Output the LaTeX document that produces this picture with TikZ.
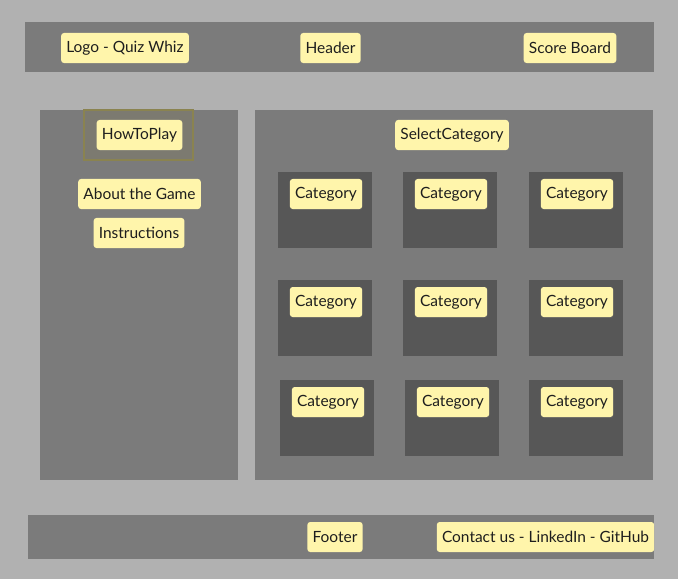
\documentclass[tikz,border=0pt]{standalone}
\usepackage{fontspec}
\setmainfont{Lato}
\usetikzlibrary{positioning,shadows}
\definecolor{page}{HTML}{B1B1B1}
\definecolor{panel}{HTML}{7B7B7B}
\definecolor{tile}{HTML}{575757}
\definecolor{note}{HTML}{FFF5AB}
\definecolor{ink}{HTML}{1E1E1E}
\definecolor{mark}{HTML}{8A8350}
\definecolor{markfill}{HTML}{7C7A70}
\tikzset{
  sticky/.style={fill=note, rounded corners=2pt, text=ink, inner xsep=0.13cm,
                 minimum height=0.75cm, font=\fontsize{11}{13}\selectfont,
                 drop shadow={opacity=0.18, shadow xshift=0.4pt, shadow yshift=-0.8pt}},
  area/.style={fill=panel},
}

\begin{document}
\begin{tikzpicture}[x=0.025cm, y=-0.025cm]
    \fill[page] (0,0) rectangle (678,579);
    % header
    \fill[area] (25,22) rectangle (654,72);
    \node[sticky] (logo) at (125,48) {Logo - Quiz Whiz};
    \node[sticky] (header) at (330.5,48) {Header};
    \node[sticky] (score) at (570,48) {Score Board};
    % left column
    \fill[area] (40,110) rectangle (238,480);
    \fill[markfill, draw=mark, line width=0.8pt] (84,110) rectangle (193,160);
    \node[sticky] (howto) at (139.5,135) {HowToPlay};
    \node[sticky] (about) at (139.5,194) {About the Game};
    \node[sticky] (instr) at (139,233) {Instructions};
    % categories
    \fill[area] (255,110) rectangle (653,480);
    \node[sticky] (select) at (452,135) {SelectCategory};
    \foreach \i/\bx/\by in {1/278/172, 2/403/172, 3/529/172,
                            4/278/280, 5/403/280, 6/529/280,
                            7/280/380, 8/405/380, 9/529/380}
      { \fill[tile] (\bx,\by) rectangle (\bx+94,\by+76);
        \node[sticky] (cat\i) at (\bx+48,\by+22) {Category}; }
    % footer
    \fill[area] (28,515) rectangle (654,559);
    \node[sticky] (footer) at (335,537) {Footer};
    \node[sticky] (contact) at (545.5,537) {Contact us - LinkedIn - GitHub};
  \end{tikzpicture}
\end{document}
